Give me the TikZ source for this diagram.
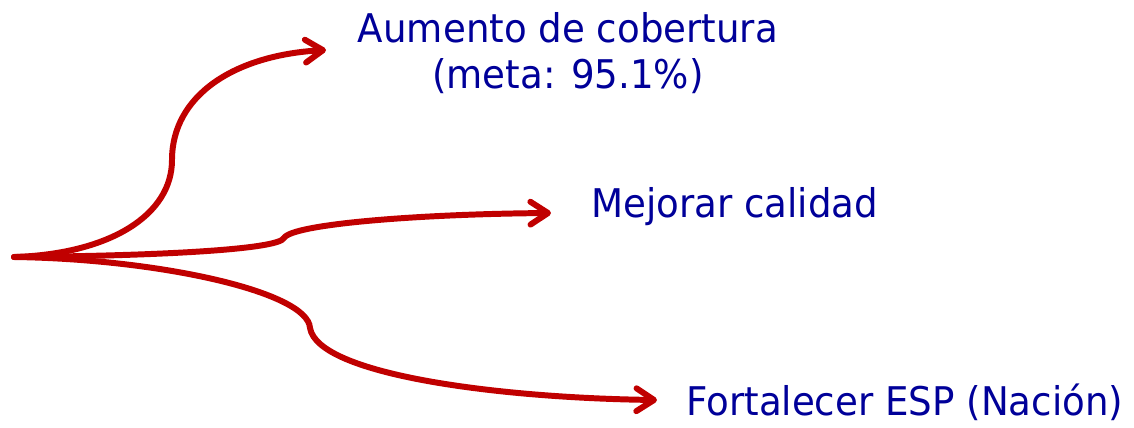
\documentclass[tikz,border=0pt]{standalone}
\usepackage{fontspec}
\setmainfont{DejaVu Sans}[FakeStretch=0.94]
\usetikzlibrary{arrows.meta}
\definecolor{arrred}{RGB}{192,0,0}
\definecolor{txtblue}{RGB}{0,0,153}
\begin{document}
\begin{tikzpicture}[x=0.02cm,y=-0.02cm,
  branch/.style={draw=arrred,line width=3.4pt,line cap=round,
    -{Straight Barb[length=10pt,width=13pt,line cap=round,line join=round]}},
  label/.style={text=txtblue,font=\fontsize{22.5}{26}\selectfont,inner sep=0pt}]
\useasboundingbox (0,0) rectangle (1134,427);
\coordinate (root) at (14,257);
\coordinate (t1) at (326,50);
\coordinate (t2) at (551,213);
\coordinate (t3) at (657,400);
\node[label,align=center] (cob) at (568,53) {Aumento de cobertura\\(meta: 95.1\%)};
\node[label,anchor=west] (cal) at (591,207) {Mejorar calidad};
\node[label,anchor=west] (esp) at (686,402) {Fortalecer ESP (Nación)};
\draw[branch] (root) .. controls (110,254) and (172,215) .. (172,160)
  .. controls (172,95) and (235,55) .. (t1);
\draw[branch] (root) .. controls (150,256) and (278,250) .. (284,238)
  .. controls (292,224) and (420,214) .. (t2);
\draw[branch] (root) .. controls (160,259) and (308,292) .. (310,328)
  .. controls (318,375) and (500,398) .. (t3);
\end{tikzpicture}
\end{document}
